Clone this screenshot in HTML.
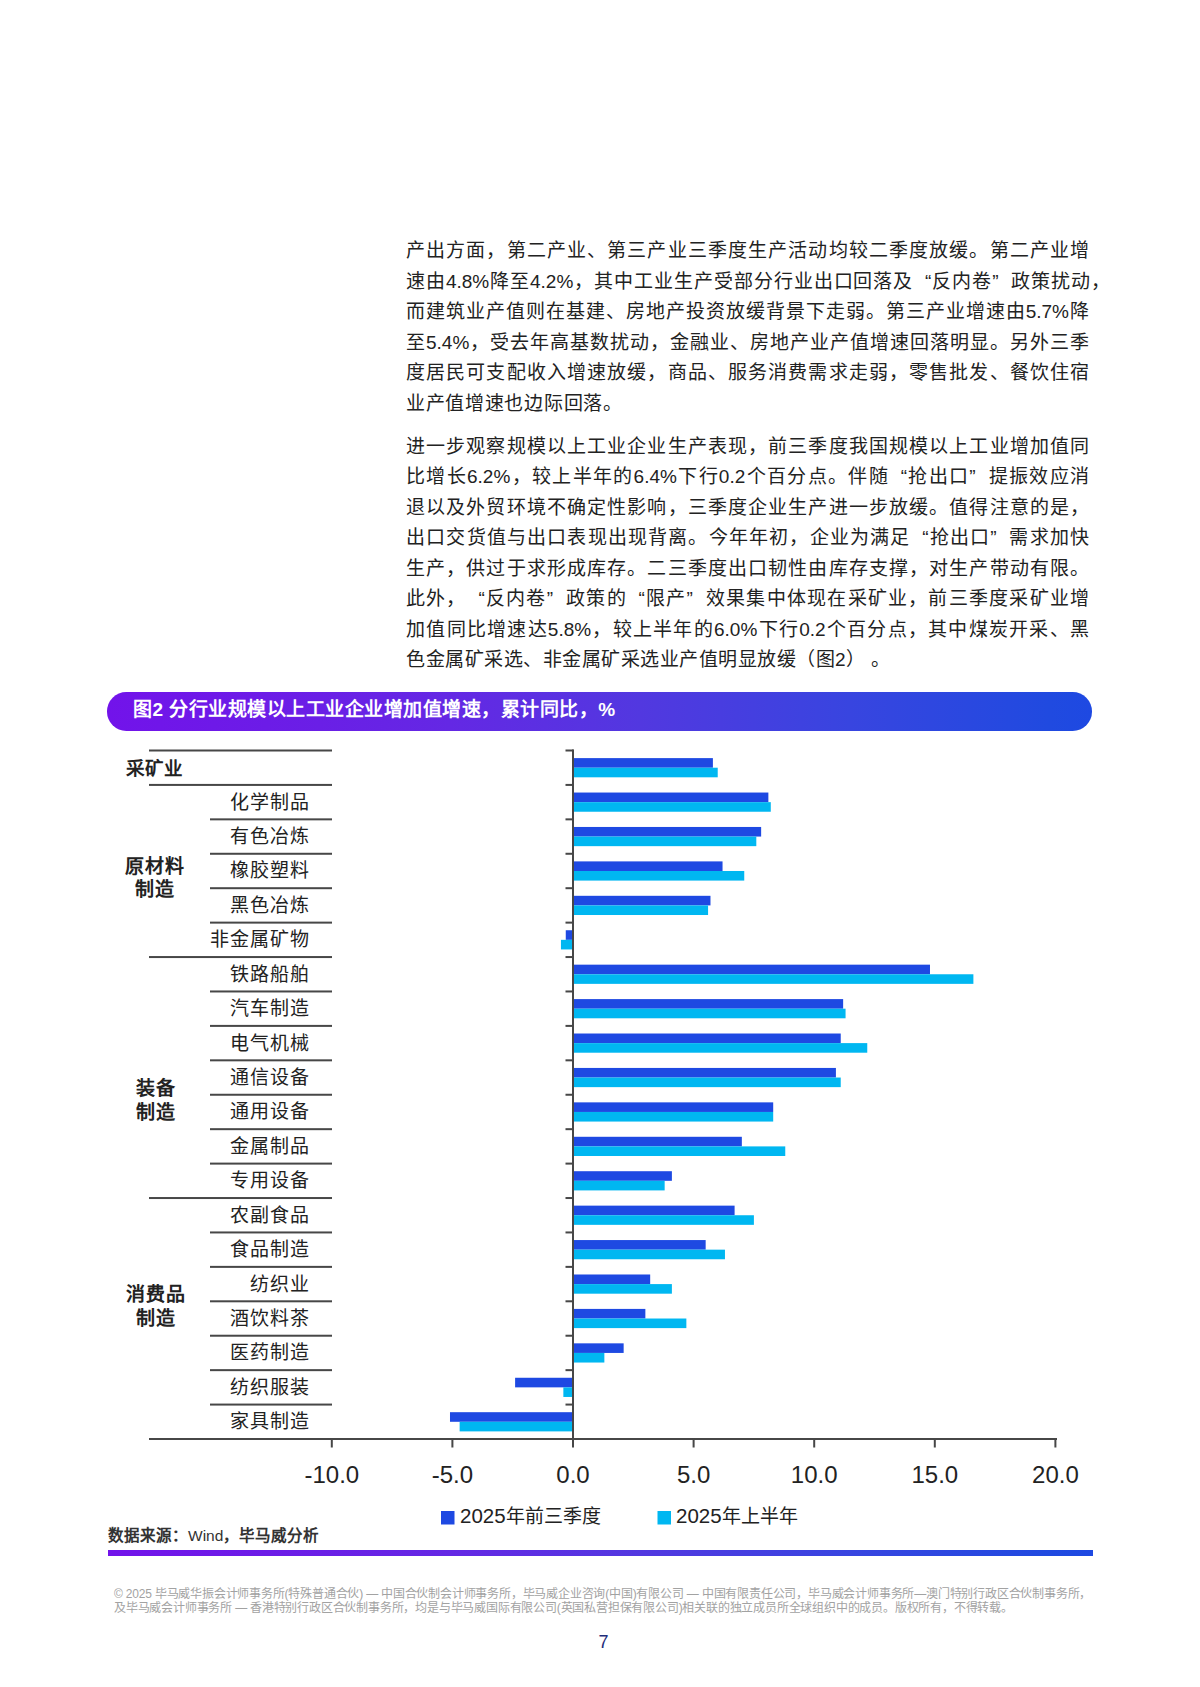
<!DOCTYPE html>
<html lang="zh-CN"><head><meta charset="utf-8"><title>page</title>
<style>
html,body{margin:0;padding:0;background:#fff;}
body{width:1200px;height:1687px;position:relative;overflow:hidden;font-family:"Liberation Sans",sans-serif;color:#222;}
.a{position:absolute;white-space:nowrap;}
.ln{position:absolute;left:406px;width:683px;font-size:19px;line-height:20px;height:20px;font-weight:500;text-align:justify;text-align-last:justify;white-space:nowrap;}
.ll{text-align-last:left;letter-spacing:1px;}
.q1{padding-left:0.62em;}
.q2{padding-right:0.62em;}
.sub{position:absolute;font-size:19px;letter-spacing:1px;line-height:20px;font-weight:500;text-align:right;white-space:nowrap;}
.grp{position:absolute;font-size:19px;letter-spacing:1px;line-height:23.5px;font-weight:bold;text-align:center;white-space:nowrap;}
.tick{position:absolute;font-size:24px;line-height:24px;text-align:center;width:80px;}
.ft{position:absolute;left:114px;font-size:12px;line-height:12px;color:#a2a2a2;font-weight:500;letter-spacing:-0.2px;white-space:nowrap;}
</style></head><body>

<div class="ln" style="top:241.00px">产出方面，第二产业、第三产业三季度生产活动均较二季度放缓。第二产业增</div>
<div class="ln" style="top:271.60px;width:704px">速由4.8%降至4.2%，其中工业生产受部分行业出口回落及<span class="q1">“</span>反内卷<span class="q2">”</span>政策扰动，</div>
<div class="ln" style="top:302.20px">而建筑业产值则在基建、房地产投资放缓背景下走弱。第三产业增速由5.7%降</div>
<div class="ln" style="top:332.80px">至5.4%，受去年高基数扰动，金融业、房地产业产值增速回落明显。另外三季</div>
<div class="ln" style="top:363.40px">度居民可支配收入增速放缓，商品、服务消费需求走弱，零售批发、餐饮住宿</div>
<div class="ln ll" style="top:394.00px;letter-spacing:0.7px">业产值增速也边际回落。</div>
<div class="ln" style="top:436.50px">进一步观察规模以上工业企业生产表现，前三季度我国规模以上工业增加值同</div>
<div class="ln" style="top:467.05px">比增长6.2%，较上半年的6.4%下行0.2个百分点。伴随<span class="q1">“</span>抢出口<span class="q2">”</span>提振效应消</div>
<div class="ln" style="top:497.60px">退以及外贸环境不确定性影响，三季度企业生产进一步放缓。值得注意的是，</div>
<div class="ln" style="top:528.15px">出口交货值与出口表现出现背离。今年年初，企业为满足<span class="q1">“</span>抢出口<span class="q2">”</span>需求加快</div>
<div class="ln" style="top:558.70px">生产，供过于求形成库存。二三季度出口韧性由库存支撑，对生产带动有限。</div>
<div class="ln" style="top:589.25px">此外，<span class="q1">“</span>反内卷<span class="q2">”</span>政策的<span class="q1">“</span>限产<span class="q2">”</span>效果集中体现在采矿业，前三季度采矿业增</div>
<div class="ln" style="top:619.80px">加值同比增速达5.8%，较上半年的6.0%下行0.2个百分点，其中煤炭开采、黑</div>
<div class="ln ll" style="top:650.35px;letter-spacing:0.5px">色金属矿采选、非金属矿采选业产值明显放缓（图2） 。</div>
<div class="a" style="left:107px;top:692px;width:985px;height:38.5px;border-radius:19.25px;background:linear-gradient(90deg,#7213ea 0%,#6a1fe6 21.6%,#6428e4 34.8%,#5238e0 54.1%,#3845e0 75.4%,#204ae0 95.7%,#1e49e2 100%);"></div>
<div class="a" style="left:133px;top:699px;font-size:19px;letter-spacing:0.5px;line-height:22px;font-weight:bold;color:#fff;">图2 分行业规模以上工业企业增加值增速，累计同比，%</div>
<svg class="a" style="left:0;top:0" width="1200" height="1687">
<rect x="149" y="749.50" width="183" height="2" fill="#474747"/>
<rect x="565.5" y="749.50" width="8" height="2" fill="#474747"/>
<rect x="149" y="783.92" width="183" height="2" fill="#474747"/>
<rect x="565.5" y="783.92" width="8" height="2" fill="#474747"/>
<rect x="210" y="818.35" width="122" height="2" fill="#474747"/>
<rect x="565.5" y="818.35" width="8" height="2" fill="#474747"/>
<rect x="210" y="852.77" width="122" height="2" fill="#474747"/>
<rect x="565.5" y="852.77" width="8" height="2" fill="#474747"/>
<rect x="210" y="887.20" width="122" height="2" fill="#474747"/>
<rect x="565.5" y="887.20" width="8" height="2" fill="#474747"/>
<rect x="210" y="921.62" width="122" height="2" fill="#474747"/>
<rect x="565.5" y="921.62" width="8" height="2" fill="#474747"/>
<rect x="149" y="956.05" width="183" height="2" fill="#474747"/>
<rect x="565.5" y="956.05" width="8" height="2" fill="#474747"/>
<rect x="210" y="990.47" width="122" height="2" fill="#474747"/>
<rect x="565.5" y="990.47" width="8" height="2" fill="#474747"/>
<rect x="210" y="1024.90" width="122" height="2" fill="#474747"/>
<rect x="565.5" y="1024.90" width="8" height="2" fill="#474747"/>
<rect x="210" y="1059.33" width="122" height="2" fill="#474747"/>
<rect x="565.5" y="1059.33" width="8" height="2" fill="#474747"/>
<rect x="210" y="1093.75" width="122" height="2" fill="#474747"/>
<rect x="565.5" y="1093.75" width="8" height="2" fill="#474747"/>
<rect x="210" y="1128.17" width="122" height="2" fill="#474747"/>
<rect x="565.5" y="1128.17" width="8" height="2" fill="#474747"/>
<rect x="210" y="1162.60" width="122" height="2" fill="#474747"/>
<rect x="565.5" y="1162.60" width="8" height="2" fill="#474747"/>
<rect x="149" y="1197.03" width="183" height="2" fill="#474747"/>
<rect x="565.5" y="1197.03" width="8" height="2" fill="#474747"/>
<rect x="210" y="1231.45" width="122" height="2" fill="#474747"/>
<rect x="565.5" y="1231.45" width="8" height="2" fill="#474747"/>
<rect x="210" y="1265.88" width="122" height="2" fill="#474747"/>
<rect x="565.5" y="1265.88" width="8" height="2" fill="#474747"/>
<rect x="210" y="1300.30" width="122" height="2" fill="#474747"/>
<rect x="565.5" y="1300.30" width="8" height="2" fill="#474747"/>
<rect x="210" y="1334.72" width="122" height="2" fill="#474747"/>
<rect x="565.5" y="1334.72" width="8" height="2" fill="#474747"/>
<rect x="210" y="1369.15" width="122" height="2" fill="#474747"/>
<rect x="565.5" y="1369.15" width="8" height="2" fill="#474747"/>
<rect x="210" y="1403.57" width="122" height="2" fill="#474747"/>
<rect x="565.5" y="1403.57" width="8" height="2" fill="#474747"/>
<rect x="149" y="1438" width="908" height="2" fill="#474747"/>
<rect x="330.80" y="1438" width="2" height="9.5" fill="#474747"/>
<rect x="451.40" y="1438" width="2" height="9.5" fill="#474747"/>
<rect x="572.00" y="1438" width="2" height="9.5" fill="#474747"/>
<rect x="692.60" y="1438" width="2" height="9.5" fill="#474747"/>
<rect x="813.20" y="1438" width="2" height="9.5" fill="#474747"/>
<rect x="933.80" y="1438" width="2" height="9.5" fill="#474747"/>
<rect x="1054.40" y="1438" width="2" height="9.5" fill="#474747"/>
<rect x="573.00" y="758.11" width="139.90" height="9.6" fill="#1e49e2"/>
<rect x="573.00" y="767.71" width="144.72" height="9.6" fill="#00b7f1"/>
<rect x="573.00" y="792.54" width="195.37" height="9.6" fill="#1e49e2"/>
<rect x="573.00" y="802.14" width="197.78" height="9.6" fill="#00b7f1"/>
<rect x="573.00" y="826.96" width="188.14" height="9.6" fill="#1e49e2"/>
<rect x="573.00" y="836.56" width="183.31" height="9.6" fill="#00b7f1"/>
<rect x="573.00" y="861.39" width="149.54" height="9.6" fill="#1e49e2"/>
<rect x="573.00" y="870.99" width="171.25" height="9.6" fill="#00b7f1"/>
<rect x="573.00" y="895.81" width="137.48" height="9.6" fill="#1e49e2"/>
<rect x="573.00" y="905.41" width="135.07" height="9.6" fill="#00b7f1"/>
<rect x="565.76" y="930.24" width="7.24" height="9.6" fill="#1e49e2"/>
<rect x="560.94" y="939.84" width="12.06" height="9.6" fill="#00b7f1"/>
<rect x="573.00" y="964.66" width="356.98" height="9.6" fill="#1e49e2"/>
<rect x="573.00" y="974.26" width="400.39" height="9.6" fill="#00b7f1"/>
<rect x="573.00" y="999.09" width="270.14" height="9.6" fill="#1e49e2"/>
<rect x="573.00" y="1008.69" width="272.56" height="9.6" fill="#00b7f1"/>
<rect x="573.00" y="1033.51" width="267.73" height="9.6" fill="#1e49e2"/>
<rect x="573.00" y="1043.11" width="294.26" height="9.6" fill="#00b7f1"/>
<rect x="573.00" y="1067.94" width="262.91" height="9.6" fill="#1e49e2"/>
<rect x="573.00" y="1077.54" width="267.73" height="9.6" fill="#00b7f1"/>
<rect x="573.00" y="1102.36" width="200.20" height="9.6" fill="#1e49e2"/>
<rect x="573.00" y="1111.96" width="200.20" height="9.6" fill="#00b7f1"/>
<rect x="573.00" y="1136.79" width="168.84" height="9.6" fill="#1e49e2"/>
<rect x="573.00" y="1146.39" width="212.26" height="9.6" fill="#00b7f1"/>
<rect x="573.00" y="1171.21" width="98.89" height="9.6" fill="#1e49e2"/>
<rect x="573.00" y="1180.81" width="91.66" height="9.6" fill="#00b7f1"/>
<rect x="573.00" y="1205.64" width="161.60" height="9.6" fill="#1e49e2"/>
<rect x="573.00" y="1215.24" width="180.90" height="9.6" fill="#00b7f1"/>
<rect x="573.00" y="1240.06" width="132.66" height="9.6" fill="#1e49e2"/>
<rect x="573.00" y="1249.66" width="151.96" height="9.6" fill="#00b7f1"/>
<rect x="573.00" y="1274.49" width="77.18" height="9.6" fill="#1e49e2"/>
<rect x="573.00" y="1284.09" width="98.89" height="9.6" fill="#00b7f1"/>
<rect x="573.00" y="1308.91" width="72.36" height="9.6" fill="#1e49e2"/>
<rect x="573.00" y="1318.51" width="113.36" height="9.6" fill="#00b7f1"/>
<rect x="573.00" y="1343.34" width="50.65" height="9.6" fill="#1e49e2"/>
<rect x="573.00" y="1352.94" width="31.36" height="9.6" fill="#00b7f1"/>
<rect x="515.11" y="1377.76" width="57.89" height="9.6" fill="#1e49e2"/>
<rect x="563.35" y="1387.36" width="9.65" height="9.6" fill="#00b7f1"/>
<rect x="449.99" y="1412.19" width="123.01" height="9.6" fill="#1e49e2"/>
<rect x="459.64" y="1421.79" width="113.36" height="9.6" fill="#00b7f1"/>
<rect x="572" y="749.5" width="2" height="697.50" fill="#474747"/>
<rect x="441" y="1511" width="13.5" height="13.5" fill="#1e49e2"/>
<rect x="657.5" y="1511" width="13.5" height="13.5" fill="#00b7f1"/>
<defs><linearGradient id="g" x1="0" x2="1" y1="0" y2="0"><stop offset="0" stop-color="#7213ea"/><stop offset="0.216" stop-color="#6a1fe6"/><stop offset="0.348" stop-color="#6428e4"/><stop offset="0.541" stop-color="#5238e0"/><stop offset="0.754" stop-color="#3845e0"/><stop offset="0.957" stop-color="#204ae0"/><stop offset="1" stop-color="#1e49e2"/></linearGradient></defs>
<rect x="108" y="1550" width="985" height="6" fill="url(#g)"/>
</svg>
<div class="sub" style="right:890.5px;top:792.64px">化学制品</div>
<div class="sub" style="right:890.5px;top:827.06px">有色冶炼</div>
<div class="sub" style="right:890.5px;top:861.49px">橡胶塑料</div>
<div class="sub" style="right:890.5px;top:895.91px">黑色冶炼</div>
<div class="sub" style="right:890.5px;top:930.34px">非金属矿物</div>
<div class="sub" style="right:890.5px;top:964.76px">铁路船舶</div>
<div class="sub" style="right:890.5px;top:999.19px">汽车制造</div>
<div class="sub" style="right:890.5px;top:1033.61px">电气机械</div>
<div class="sub" style="right:890.5px;top:1068.04px">通信设备</div>
<div class="sub" style="right:890.5px;top:1102.46px">通用设备</div>
<div class="sub" style="right:890.5px;top:1136.89px">金属制品</div>
<div class="sub" style="right:890.5px;top:1171.31px">专用设备</div>
<div class="sub" style="right:890.5px;top:1205.74px">农副食品</div>
<div class="sub" style="right:890.5px;top:1240.16px">食品制造</div>
<div class="sub" style="right:890.5px;top:1274.59px">纺织业</div>
<div class="sub" style="right:890.5px;top:1309.01px">酒饮料茶</div>
<div class="sub" style="right:890.5px;top:1343.44px">医药制造</div>
<div class="sub" style="right:890.5px;top:1377.86px">纺织服装</div>
<div class="sub" style="right:890.5px;top:1412.29px">家具制造</div>
<div class="grp" style="left:104px;width:100px;top:756.71px;font-size:18.5px;letter-spacing:0">采矿业</div>
<div class="grp" style="left:105px;width:100px;top:855px;line-height:23px">原材料<br>制造</div>
<div class="grp" style="left:105.5px;width:100px;top:1076.5px;line-height:24px">装备<br>制造</div>
<div class="grp" style="left:106px;width:100px;top:1283px;line-height:24px">消费品<br>制造</div>
<div class="tick" style="left:291.80px;top:1463px">-10.0</div>
<div class="tick" style="left:412.40px;top:1463px">-5.0</div>
<div class="tick" style="left:533.00px;top:1463px">0.0</div>
<div class="tick" style="left:653.60px;top:1463px">5.0</div>
<div class="tick" style="left:774.20px;top:1463px">10.0</div>
<div class="tick" style="left:894.80px;top:1463px">15.0</div>
<div class="tick" style="left:1015.40px;top:1463px">20.0</div>
<div class="a" style="left:460px;top:1505px;font-size:19px;line-height:22px;"><span style="font-size:20.5px">2025</span>年前三季度</div>
<div class="a" style="left:676px;top:1505px;font-size:19px;line-height:22px;"><span style="font-size:20.5px">2025</span>年上半年</div>
<div class="a" style="left:108px;top:1527px;font-size:15.5px;line-height:18px;color:#333;font-weight:bold;">数据来源：<span style="font-weight:normal">Wind</span>，毕马威分析</div>
<div class="ft" style="top:1587.5px">© 2025 毕马威华振会计师事务所(特殊普通合伙) — 中国合伙制会计师事务所，毕马威企业咨询(中国)有限公司 — 中国有限责任公司，毕马威会计师事务所—澳门特别行政区合伙制事务所，</div>
<div class="ft" style="top:1601.5px">及毕马威会计师事务所 — 香港特别行政区合伙制事务所，均是与毕马威国际有限公司(英国私营担保有限公司)相关联的独立成员所全球组织中的成员。版权所有，不得转载。</div>
<div class="a" style="left:598.5px;top:1633px;font-size:18px;line-height:18px;color:#1f2d7a;">7</div>
</body></html>
